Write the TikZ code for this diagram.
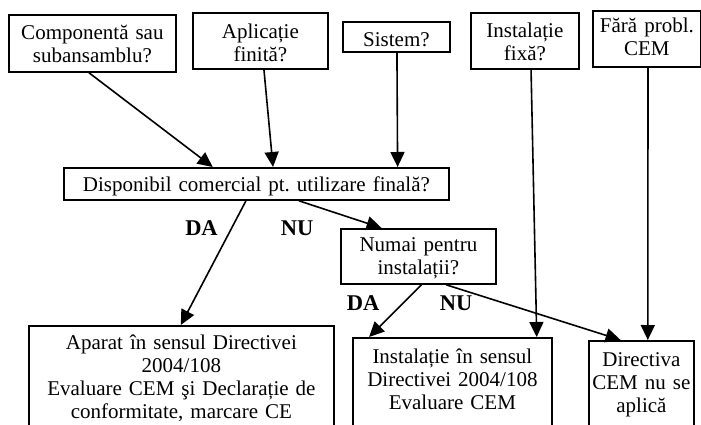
\documentclass[tikz,border=0pt]{standalone}
\usepackage{fontspec}
\setmainfont{Liberation Serif}
\usetikzlibrary{arrows.meta,calc}
\frenchspacing
\newcommand\fsz{\fontsize{21}{23}\selectfont}
\newcommand\lsz{\fontsize{22.5}{24}\selectfont}
\tikzset{
  boxnode/.style={draw, line width=1.8pt, inner sep=0pt, align=center, font=\fsz, anchor=north west},
  arr/.style={line width=1.6pt, -{Triangle[length=15pt,width=14pt]}},
  lbl/.style={font=\lsz\bfseries, anchor=base, inner sep=0pt}
}
\begin{document}
\begin{tikzpicture}[x=1pt,y=-1pt]
\fill[white] (0,0) rectangle (701,425);
\clip (0,0) rectangle (701,425);
% top boxes
\node[boxnode, text width=167pt, text height=25pt, text depth=32pt] (comp) at (8,14) {Componentă sau\\subansamblu?};
\node[boxnode, text width=135pt, text height=26pt, text depth=30pt] (apl) at (192,12) {Aplicație\\finită?};
\node[boxnode, text width=107pt, text height=25pt, text depth=5pt] (sis) at (342,21) {Sistem?};
\node[boxnode, text width=108pt, text height=24.5pt, text depth=31.5pt] (ifix) at (470,12) {Instalație\\fixă?};
\node[boxnode, text width=108pt, text height=22pt, text depth=34pt] (fara) at (592,10) {Fără probl.\\CEM};
% middle
\node[boxnode, text width=385pt, text height=24pt, text depth=8pt] (disp) at (63,167) {Disponibil comercial pt. utilizare finală?};
\node[boxnode, text width=155pt, text height=22.5pt, text depth=32.5pt] (numai) at (340,228) {Numai pentru\\instalații?};
% bottom
\node[boxnode, text width=305pt, text height=23.5pt, text depth=97pt] (aparat) at (28,325) {Aparat în sensul Directivei\\2004/108\\Evaluare CEM şi Declarație de\\conformitate, marcare CE};
\node[boxnode, text width=199pt, text height=25.5pt, text depth=95pt] (inst) at (352,337) {Instalație în sensul\\Directivei 2004/108\\Evaluare CEM};
\node[boxnode, text width=105pt, text height=25.5pt, text depth=95pt] (dir) at (588,340) {Directiva\\CEM nu se\\aplică};
% labels
\node[lbl] (da1) at (201.5,235) {DA};
\node[lbl] (nu1) at (297,235) {NU};
\node[lbl] (da2) at (363,310) {DA};
\node[lbl] (nu2) at (456,310) {NU};
% arrows
\draw[arr] ($(comp.south west)!0.48!(comp.south east)$) -- ($(disp.north west)!0.387!(disp.north east)$);
\draw[arr] ($(apl.south west)!0.526!(apl.south east)$) -- ($(disp.north west)!0.543!(disp.north east)$);
\draw[arr] ($(sis.south west)!0.505!(sis.south east)$) -- ($(disp.north west)!0.865!(disp.north east)$);
\draw[arr] ($(disp.south west)!0.473!(disp.south east)$) -- ($(aparat.north west)!0.498!(aparat.north east)$);
\draw[arr] ($(disp.south west)!0.61!(disp.south east)$) -- ($(numai.north west)!0.265!(numai.north east)$);
\draw[arr] ($(numai.south west)!0.52!(numai.south east)$) -- ($(inst.north west)!0.085!(inst.north east)$);
\draw[arr] ($(numai.south west)!0.677!(numai.south east)$) -- ($(dir.north west)!0.305!(dir.north east)$);
\draw[arr] ($(ifix.south west)!0.556!(ifix.south east)$) -- ($(inst.north west)!0.92!(inst.north east)$);
\draw[arr] ($(fara.south west)!0.51!(fara.south east)$) -- ($(dir.north west)!0.56!(dir.north east)$);
\end{tikzpicture}
\end{document}
